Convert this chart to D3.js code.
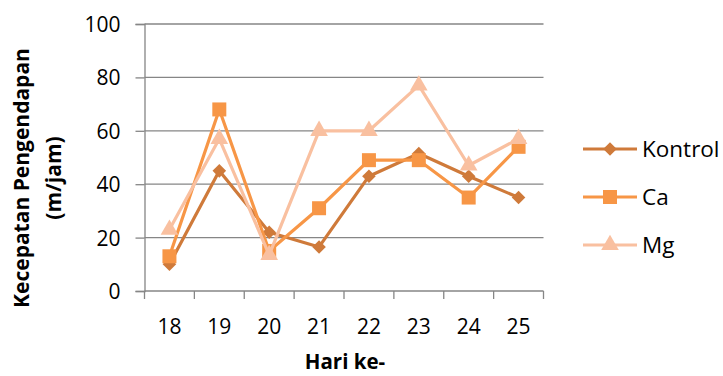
<!DOCTYPE html>
<html>
<head>
<meta charset="utf-8">
<script src="https://cdn.jsdelivr.net/npm/d3@7"></script>
<style>
  html, body { margin: 0; padding: 0; background: #fff; }
  svg text { font-family: "Open Sans", "Liberation Sans", sans-serif; fill: #000; }
</style>
</head>
<body>
<svg id="chart" width="723" height="376"></svg>
<script>
// Days of observation
const days = ["18", "19", "20", "21", "22", "23", "24", "25"];
// Sedimentation speed (m/jam) per treatment
const kontrol = [10, 45, 22, 16.5, 43, 51.5, 43, 35];
const ca      = [13, 68, 15, 31, 49, 49, 35, 54];
const mg      = [23, 57, 13.5, 60, 60, 77, 47, 57];
const yTicks  = [0, 20, 40, 60, 80, 100];

const seriesList = [
  { name: "Kontrol", values: kontrol, color: "#CF7A3A", shape: d3.symbolSquare,   size: 92, rot: 45 },
  { name: "Ca",      values: ca,      color: "#F79646", shape: d3.symbolSquare,   size: 196, rot: 0 },
  { name: "Mg",      values: mg,      color: "#F9C0A0", shape: d3.symbolTriangle, size: 135, rot: 0 }
];

const svg = d3.select("#chart");
const m = { left: 144.5, right: 543.5, top: 24, bottom: 291 };

const x = d3.scaleBand().domain(days).range([m.left, m.right]);
const y = d3.scaleLinear().domain([0, 100]).range([m.bottom, m.top]);

// Horizontal gridlines
svg.append("g").selectAll("line").data(yTicks.filter(t => t > 0)).join("line")
  .attr("x1", m.left).attr("x2", m.right)
  .attr("y1", d => y(d)).attr("y2", d => y(d))
  .attr("stroke", "#868686").attr("stroke-width", 1.3);

// Y axis
const yAxis = svg.append("g").attr("transform", `translate(${m.left},0)`)
  .call(d3.axisLeft(y).tickValues(yTicks).tickSize(9).tickPadding(15));
yAxis.select(".domain").attr("stroke", "#868686").attr("stroke-width", 1.3);
yAxis.selectAll(".tick line").attr("stroke", "#868686").attr("stroke-width", 1.3);
yAxis.selectAll(".tick text").attr("font-size", 21).attr("dy", "0.36em")
  .style("font-family", "'Open Sans', sans-serif");

// X axis with ticks on category boundaries
const xAxis = svg.append("g").attr("transform", `translate(0,${m.bottom})`)
  .call(d3.axisBottom(x).tickSize(0).tickPadding(0));
xAxis.select(".domain").attr("stroke", "#868686").attr("stroke-width", 1.3)
  .attr("d", `M${m.left},0H${m.right}`);
xAxis.selectAll(".tick text").attr("font-size", 21).attr("dy", null).attr("y", 43)
  .style("font-family", "'Open Sans', sans-serif");
const bounds = days.map(d => x(d)).concat([x(days[days.length - 1]) + x.bandwidth()]);
xAxis.selectAll("line.sep").data(bounds).join("line").attr("class", "sep")
  .attr("x1", d => d).attr("x2", d => d).attr("y1", 0).attr("y2", 8)
  .attr("stroke", "#868686").attr("stroke-width", 1.3);

// Lines and markers
const cx = (d, i) => x(days[i]) + x.bandwidth() / 2;
const line = d3.line().x(cx).y(d => y(d));
seriesList.forEach(s => {
  svg.append("path").datum(s.values)
    .attr("d", line).attr("fill", "none")
    .attr("stroke", s.color).attr("stroke-width", 3.2).attr("stroke-linejoin", "round");
  svg.append("g").selectAll("path").data(s.values).join("path")
    .attr("d", d3.symbol().type(s.shape).size(s.size))
    .attr("transform", (d, i) => `translate(${cx(d, i)},${y(d)}) rotate(${s.rot})`)
    .attr("fill", s.color);
});

// Axis titles
svg.append("text").attr("x", 345).attr("y", 369)
  .attr("text-anchor", "middle").attr("font-size", 20.5).attr("font-weight", "bold")
  .text("Hari ke-");
const yt = svg.append("text").attr("transform", "translate(0,178) rotate(-90)")
  .attr("text-anchor", "middle").attr("font-size", 21).attr("font-weight", "bold");
yt.append("tspan").attr("x", 0).attr("y", 29).text("Kecepatan Pengendapan");
yt.append("tspan").attr("x", 0).attr("y", 61).text("(m/jam)");

// Legend
const legend = svg.append("g").selectAll("g").data(seriesList).join("g")
  .attr("transform", (d, i) => `translate(583,${149 + i * 48})`);
legend.append("line").attr("x1", 0).attr("x2", 54).attr("y1", 0).attr("y2", 0)
  .attr("stroke", d => d.color).attr("stroke-width", 3.2);
legend.append("path").attr("d", d => d3.symbol().type(d.shape).size(d.size)())
  .attr("transform", d => `translate(27,0) rotate(${d.rot})`).attr("fill", d => d.color);
legend.append("text").attr("x", 59).attr("y", 0).attr("dy", "0.36em")
  .attr("font-size", 22.5).text(d => d.name);
</script>
</body>
</html>
